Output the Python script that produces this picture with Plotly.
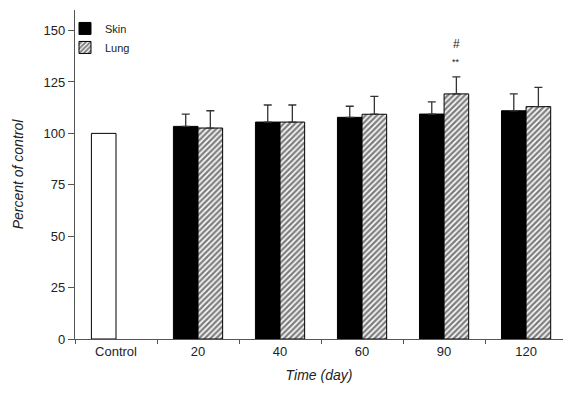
import plotly.graph_objects as go

categories = ["Control", "20", "40", "60", "90", "120"]
control_value = [100]
skin_values = [103.4, 105.5, 107.8, 109.4, 111.0]
skin_err = [6.0, 8.3, 5.4, 5.9, 8.2]
lung_values = [102.6, 105.5, 109.3, 119.2, 113.0]
lung_err = [8.4, 8.3, 8.7, 8.3, 9.4]
y_ticks = [0, 25, 50, 75, 100, 125, 150]
time_cats = categories[1:]

font_family = "Liberation Sans, Arial, sans-serif"
W = 0.3

fig = go.Figure()
fig.add_trace(go.Bar(
    x=categories[:1], y=control_value, width=W, offset=-W,
    marker=dict(color="white", line=dict(color="black", width=1)),
    showlegend=False, hoverinfo="skip"))
fig.add_trace(go.Bar(
    x=time_cats, y=skin_values, width=W, offset=-W, name="Skin",
    marker=dict(color="black", line=dict(color="black", width=1)),
    error_y=dict(type="data", array=skin_err, arrayminus=[0]*5,
                 color="#333", thickness=1.3, width=4)))
fig.add_trace(go.Bar(
    x=time_cats, y=lung_values, width=W, offset=0, name="Lung",
    marker=dict(color="white", line=dict(color="black", width=1),
                pattern=dict(shape="/", fgcolor="black", bgcolor="white",
                             size=4, solidity=0.6)),
    error_y=dict(type="data", array=lung_err, arrayminus=[0]*5,
                 color="#333", thickness=1.3, width=4)))

# significance marks over the 90-day lung bar
idx = categories.index("90")
top = lung_values[time_cats.index("90")] + lung_err[time_cats.index("90")]
fig.add_annotation(x=idx, y=top, xshift=W * 82 / 2, yshift=15, text="**",
                   showarrow=False, font=dict(size=9, color="#222", family=font_family))
fig.add_annotation(x=idx, y=top, xshift=W * 82 / 2, yshift=33, text="#",
                   showarrow=False, font=dict(size=12, color="#222", family=font_family))

fig.update_layout(
    width=563, height=397,
    margin=dict(l=75, r=0, t=10, b=58),
    barmode="overlay",
    plot_bgcolor="white", paper_bgcolor="white",
    font=dict(family=font_family, size=13, color="#222"),
    legend=dict(x=-0.0205, y=0.988, xanchor="left", yanchor="top",
                bgcolor="rgba(0,0,0,0)", font=dict(size=11),
                itemwidth=30, tracegroupgap=0),
    xaxis=dict(
        type="category", categoryorder="array", categoryarray=categories,
        range=[-0.5, 5.45], tickson="boundaries", ticks="outside", ticklen=4,
        tickcolor="#555", showline=True, linecolor="#555", linewidth=1.3,
        showgrid=False, zeroline=False, automargin=False,
        title=dict(text="<i>Time (day)</i>", font=dict(size=14), standoff=12),
        tickfont=dict(size=13)),
    yaxis=dict(
        range=[0, 160], tickvals=y_ticks, ticks="outside", ticklen=6,
        tickcolor="#555", showline=True, linecolor="#555", linewidth=1.3,
        showgrid=False, zeroline=False, automargin=False,
        title=dict(text="<i>Percent of control</i>", font=dict(size=14), standoff=16),
        tickfont=dict(size=13)),
)

fig.write_html("out.html",
               config={"displayModeBar": False},
               post_script="document.body.style.margin='0';document.body.style.overflow='hidden';")
